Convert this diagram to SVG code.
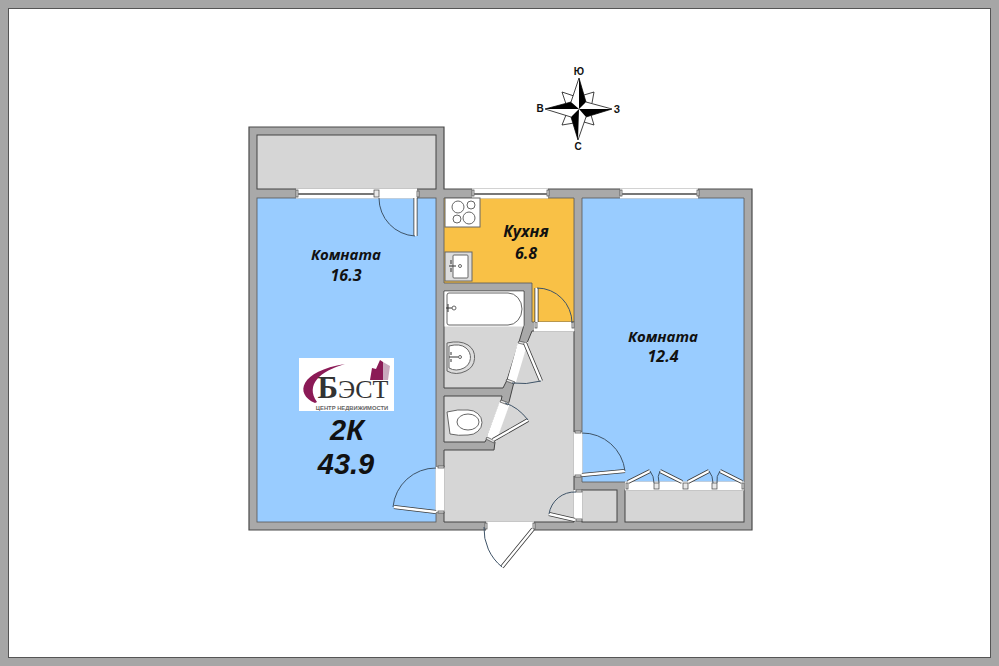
<svg xmlns="http://www.w3.org/2000/svg" width="999" height="666" viewBox="0 0 999 666">
<style>
.wall{fill:#a9a9a9;stroke:#4a4a4a;stroke-width:1.2}
.blue{fill:#99ccff;stroke:#555;stroke-width:.8}
.grey{fill:#d6d6d6;stroke:#444;stroke-width:1}
.kit{fill:#f9c146;stroke:#555;stroke-width:.8}
.open{fill:#fff;stroke:none}
.fix{fill:#fff;stroke:#666;stroke-width:1}
.fixg{fill:#dcdcdc;stroke:#666;stroke-width:1}
.arc{fill:none;stroke:#3f5468;stroke-width:1}
.jamb{fill:#e8e8e8;stroke:#444;stroke-width:.7}
.t{font-family:"Open Sans","Noto Sans",sans-serif;font-style:italic;font-weight:700;fill:#111;text-anchor:middle}
.b{font-family:"Liberation Sans",sans-serif;font-style:italic;font-weight:700;font-size:29px;fill:#111;text-anchor:middle}
.c{font-family:"Liberation Sans",sans-serif;font-weight:700;font-size:10px;fill:#111;text-anchor:middle}
</style>
<defs>
<path id="leaves" d="M436 512L394 507M582 475L625 471M575 520L549 514M533 529L502 567M415.500 198V236M536.500 288V322M525 343L541 381M493 440L528 420M628 482L650 471M660 471L682 482M688 482L709 471M720 471L742 482"/>
<path id="wins" d="M298 194H374M474 194H547M622 194H697"/>
</defs>
<rect width="999" height="666" fill="#fff"/>
<rect x="4" y="4" width="991" height="658" fill="none" stroke="#a6a6a6" stroke-width="8"/>
<rect x="8.500" y="8.500" width="982" height="649" fill="none" stroke="#555" stroke-width="1"/>
<g id="walls">
<path class="wall" d="M249 127H444V189H752V530H249Z"/>
</g>
<g id="rooms">
<rect class="grey" x="257" y="135" width="179" height="54"/>
<rect class="blue" x="257" y="198" width="179" height="324"/>
<path class="kit" d="M444 198H574V322H532V283H444Z"/>
<path class="blue" d="M582 198H744V482H582Z"/>
<path class="grey" d="M444 291H524V325L519 342L507 380L503 388H444Z"/>
<path class="grey" d="M444 396H502L501 401L487 438L485 442H444Z"/>
<path class="grey" d="M532 331H574V522H444V450H494L495 442L509 402L514 382L527 343Z"/>
<rect class="grey" x="582" y="490" width="35" height="32"/>
<rect class="grey" x="625" y="490" width="119" height="32"/>
</g>
<g id="openings">
<rect class="open" x="296" y="188.500" width="121" height="10"/>
<rect class="open" x="472" y="188.500" width="76" height="10"/>
<rect class="open" x="620" y="188.500" width="78" height="10"/>
<rect class="open" x="534" y="322" width="40" height="9.500"/>
<path class="open" d="M518 342H528L516 382H507Z"/>
<path class="open" d="M500 401L510 403L496 442L486 439Z"/>
<rect class="open" x="435.500" y="467" width="9" height="45"/>
<rect class="open" x="573.500" y="432" width="9" height="44"/>
<rect class="open" x="573.500" y="490" width="9" height="31"/>
<rect class="open" x="486" y="521.500" width="48" height="9.500"/>
<rect class="open" x="625" y="481.500" width="119" height="9"/>
</g>
<g id="jambs">
<rect class="jamb" x="296" y="190" width="2" height="7"/>
<rect class="jamb" x="374" y="190" width="5" height="7"/>
<rect class="jamb" x="417" y="191" width="2" height="6"/>
<rect class="jamb" x="472" y="190" width="2" height="6"/>
<rect class="jamb" x="547" y="190" width="2" height="6"/>
<rect class="jamb" x="620" y="190" width="2" height="6"/>
<rect class="jamb" x="697" y="190" width="2" height="6"/>
<rect class="jamb" x="535" y="322" width="2" height="6"/>
<rect class="jamb" x="572" y="322" width="2" height="6"/>
<rect class="jamb" x="438" y="466" width="6" height="2"/>
<rect class="jamb" x="438" y="511" width="6" height="2"/>
<rect class="jamb" x="575" y="431" width="6" height="2"/>
<rect class="jamb" x="575" y="475" width="6" height="2"/>
<rect class="jamb" x="576" y="490" width="6" height="2"/>
<rect class="jamb" x="576" y="519" width="6" height="2"/>
<rect class="jamb" x="485" y="523" width="2" height="6"/>
<rect class="jamb" x="533" y="523" width="2" height="6"/>
<rect class="jamb" x="626" y="483" width="2" height="6"/>
<rect class="jamb" x="654" y="483" width="5" height="6"/>
<rect class="jamb" x="683" y="483" width="5" height="6"/>
<rect class="jamb" x="712" y="483" width="5" height="6"/>
<rect class="jamb" x="742" y="483" width="2" height="6"/>
<path class="jamb" d="M519 341L527 343L526 345L518 343ZM507 379L515 382L514 384L506 381ZM501 400L509 403L508 405L500 402ZM487 437L495 441L494 443L486 439Z"/>
</g>
<g id="windows">
<use href="#wins" stroke="#777" stroke-width="2" fill="none"/>
</g>
<g id="doors">
<use href="#leaves" stroke="#3c3c3c" stroke-width="4" fill="none"/>
<use href="#leaves" stroke="#fff" stroke-width="2.400" fill="none"/>
<path class="arc" d="M436 468A43 43 0 0 0 393 507M625 471A43 43 0 0 0 582 433M549 514A26 26 0 0 1 576 492M484 527A49 49 0 0 0 502 567M379 198A38 38 0 0 0 415 236M537 288A35 35 0 0 1 572 323M541 381Q526 385 512 383M528 420Q518 407 505 403M650 471Q654 476 654 483M660 471Q657 476 659 483M709 471Q713 476 713 483M720 471Q716 476 717 483"/>
</g>
<g id="fixtures">
<rect class="fix" x="445" y="198" width="35" height="29"/>
<circle class="fix" cx="458" cy="207" r="6"/><circle class="fix" cx="471" cy="205" r="4"/>
<circle class="fix" cx="457" cy="219" r="4"/><circle class="fix" cx="469" cy="218" r="6"/>
<rect class="fixg" x="445" y="252" width="27" height="29"/>
<rect class="fix" x="453" y="255" width="15" height="23" rx="1"/>
<path d="M449 266H456M451 260V264M451 268V272" stroke="#333" stroke-width="1" fill="none"/>
<circle class="fix" cx="460" cy="266" r="1.500"/>
<rect x="444.500" y="291.500" width="79" height="35" fill="#fff"/>
<path class="fix" d="M449 293H508A14 16 0 0 1 522 309A14 16 0 0 1 508 325H449Q447 325 447 323V295Q447 293 449 293Z"/>
<path d="M446 308H453M448 304V312" stroke="#333" stroke-width="1" fill="none"/>
<circle class="fix" cx="454" cy="308" r="2"/>
<path class="fixg" d="M447 343Q460 340 468 345A15 15 0 0 1 466 371Q456 376 447 371Z"/>
<path class="fix" d="M449 346Q460 343 466 348A12 12 0 0 1 464 368Q456 372 449 368Z"/>
<path d="M449 357H458M451 352V355M451 359V362" stroke="#333" stroke-width="1" fill="none"/>
<circle class="fix" cx="460" cy="357" r="1.500"/>
<path class="fix" d="M447 412Q458 409 468 410A14 12.500 0 0 1 468 435Q458 436 450 434Z"/>
<ellipse class="fix" cx="468" cy="422" rx="11" ry="8"/>
</g>
<g id="compass">
<path d="M574 96L562 92L566 104M584 95L594 92L592 103M566 115L562 125L574 123M591 115L594 125L584 122" stroke="#111" stroke-width=".8" fill="#fff"/>
<path d="M579 78L571 102L545 109L571 117L578 140L586 117L612 109L586 102Z" fill="#fff" stroke="#111" stroke-width=".8"/>
<path d="M579 78V109L586 102ZM612 109H579L586 117ZM578 140L579 109L571 117ZM545 109H579L571 102Z" fill="#000"/>
<text class="c" x="579" y="75">Ю</text>
<text class="c" x="540" y="112">В</text>
<text class="c" x="617" y="113">З</text>
<text class="c" x="578" y="150">С</text>
</g>
<g id="labels">
<text class="t" font-size="15" x="346" y="260">Комната</text>
<text class="t" font-size="16" x="346" y="281">16.3</text>
<text class="t" font-size="16" x="526" y="237">Кухня</text>
<text class="t" font-size="16" x="526" y="259">6.8</text>
<text class="t" font-size="15" x="663" y="342">Комната</text>
<text class="t" font-size="16" x="663" y="362">12.4</text>
<text class="b" x="347" y="440">2К</text>
<text class="b" x="346" y="474">43.9</text>
</g>
<g id="logo">
<rect x="299" y="358" width="95" height="53" fill="#fff"/>
<path d="M315 403C294 394 300 371 345 364C320 371 305 385 317 402Z" fill="#8b1a56"/>
<path d="M370 380L372 368L376 369L380 360L383 362V380Z" fill="#8b1a56"/>
<path d="M383 380V362L390 366L388 380Z" fill="#c9a9bd"/>
<text x="353" y="398" font-family="Liberation Serif,serif" font-size="26" fill="#333" text-anchor="middle"><tspan font-size="31" font-weight="700">Б</tspan>ЭСТ</text>
<text x="352" y="410" font-family="Liberation Sans,sans-serif" font-size="5.800" font-weight="700" fill="#666" text-anchor="middle">ЦЕНТР НЕДВИЖИМОСТИ</text>
</g>
</svg>
